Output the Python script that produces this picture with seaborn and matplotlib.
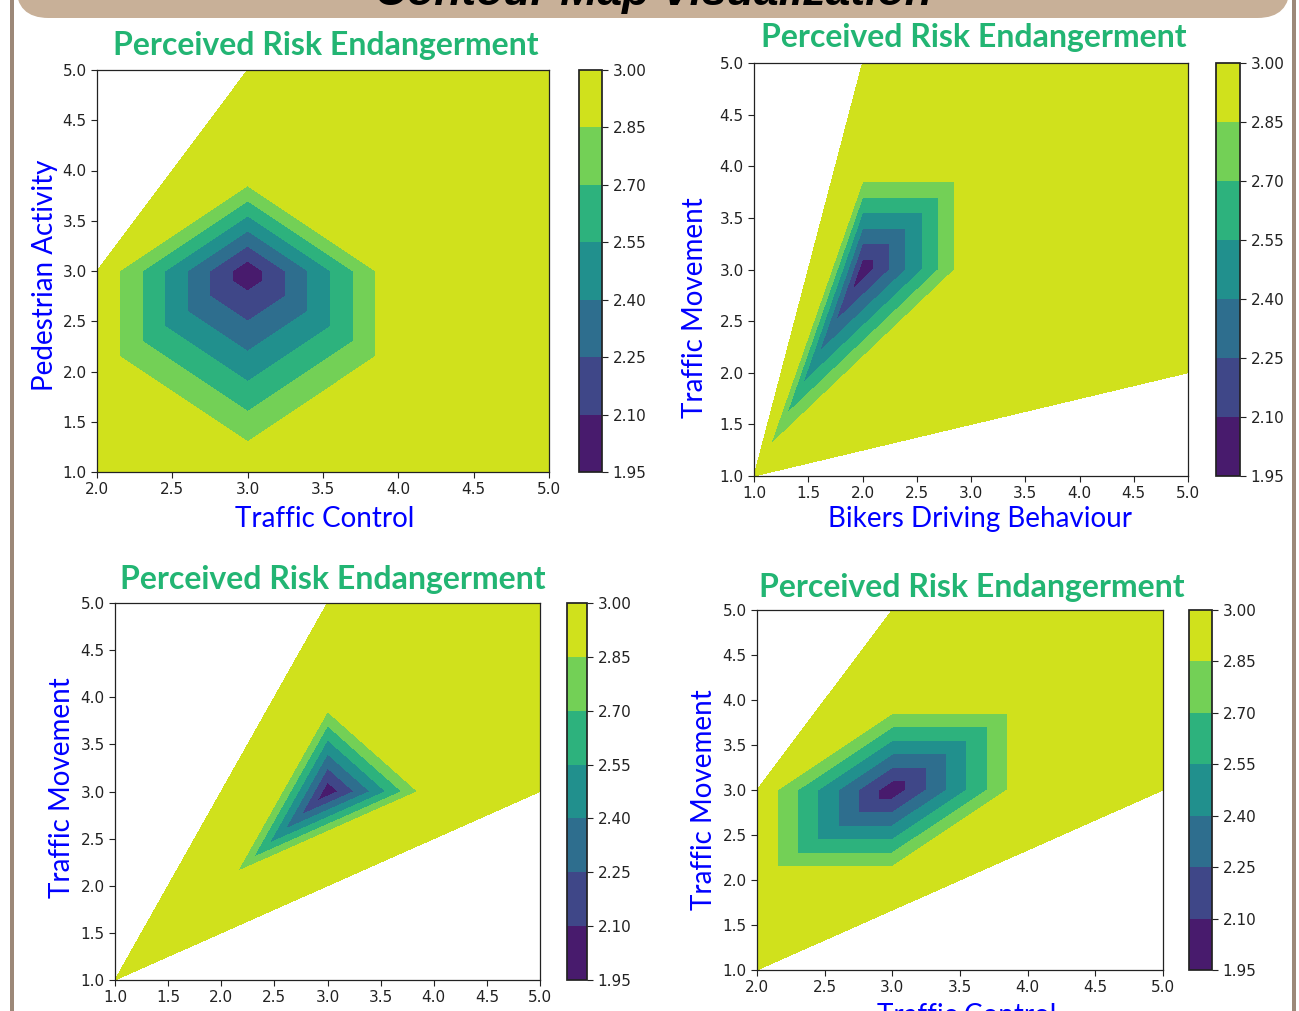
import numpy as np
import pandas as pd
import matplotlib
matplotlib.use("Agg")
import matplotlib.pyplot as plt
import matplotlib.tri as mtri
from matplotlib.patches import FancyBboxPatch, Rectangle
import seaborn as sns

# data: survey scores (1-5) and the perceived risk score at each point
tc_1 = [2, 5, 5, 3, 2, 3, 2, 3, 4, 4, 3]
pa_1 = [1, 1, 5, 5, 3, 3, 2, 4, 3, 2, 1]
risk_1 = [3.0, 3.0, 3.0, 3.0, 3.0, 2.0, 3.0, 3.0, 3.0, 3.0, 3.0]
tri_1 = [[5, 4, 7], [5, 7, 8], [5, 8, 9], [5, 9, 10], [5, 10, 6], [5, 6, 4],
         [4, 3, 7], [7, 3, 2], [7, 2, 8], [8, 2, 1], [8, 1, 9], [9, 1, 10], [10, 0, 6]]

bdb_2 = [1, 5, 5, 2, 2, 2, 3, 3]
tm_2 = [1, 2, 5, 5, 3, 4, 4, 3]
risk_2 = [3.0, 3.0, 3.0, 3.0, 2.0, 3.0, 3.0, 3.0]
tri_2 = [[4, 5, 6], [4, 6, 7], [4, 7, 0], [4, 0, 5],
         [0, 3, 5], [5, 3, 6], [6, 3, 2], [6, 2, 7], [7, 2, 1], [7, 1, 0]]

pa_3 = [1, 5, 5, 3, 3, 3, 4, 2]
tm_3 = [1, 3, 5, 5, 3, 4, 3, 2]
risk_3 = [3.0, 3.0, 3.0, 3.0, 2.0, 3.0, 3.0, 3.0]
tri_3 = None  # plain Delaunay works here

tc_4 = [2, 5, 5, 3, 2, 3, 3, 4, 4, 3, 2]
tm_4 = [1, 3, 5, 5, 3, 3, 4, 4, 3, 2, 2]
risk_4 = [3.0, 3.0, 3.0, 3.0, 3.0, 2.0, 3.0, 3.0, 3.0, 3.0, 3.0]
tri_4 = [[5, 4, 6], [5, 6, 7], [5, 7, 8], [5, 8, 9], [5, 9, 10], [5, 10, 4],
         [4, 3, 6], [6, 3, 7], [7, 3, 2], [7, 2, 1], [7, 1, 8], [8, 1, 9], [9, 1, 0], [9, 0, 10]]

levels = np.linspace(1.95, 3.0, 8)
ticks = [1.0, 1.5, 2.0, 2.5, 3.0, 3.5, 4.0, 4.5, 5.0]

# top level nudged so points sitting exactly at 3.0 get filled too
draw_levels = levels.copy()
draw_levels[-1] += 1e-6

sns.set_theme(style="ticks")
plt.rcParams['font.family'] = ['DejaVu Sans']

W, H = 1299, 1011
fig = plt.figure(figsize=(W / 100, H / 100), dpi=100)
fig.patch.set_facecolor("white")

def fx(px):
    return px / W

def fy(py):
    return 1 - py / H

# header banner and side borders
fig.patches.append(FancyBboxPatch((fx(16), fy(18)), fx(1274), 0.05,
                                  boxstyle="round,pad=0,rounding_size=0.025",
                                  transform=fig.transFigure, facecolor="#c8b098",
                                  edgecolor="none", mutation_aspect=W / H))
fig.patches.append(Rectangle((fx(10), 0), fx(4), 1, transform=fig.transFigure,
                             facecolor="#9c8878", edgecolor="none"))
fig.patches.append(Rectangle((fx(1292), 0), fx(4), 1, transform=fig.transFigure,
                             facecolor="#9c8878", edgecolor="none"))
fig.text(0.503, fy(5), "Contour Map Visualization", ha="center", va="baseline",
         fontsize=32, fontweight="bold", fontstyle="italic",
         family=["Liberation Sans", "DejaVu Sans"], color="black")

cmap = sns.color_palette("viridis", as_cmap=True)

panels = [
    dict(x=tc_1, y=pa_1, z=risk_1, t=tri_1, xlim=(2, 5), ax=(97, 70, 549, 472), cb=(579, 602),
         title=(326, 45), xl=("Traffic Control", 325, 519), yl=("Pedestrian Activity", 45, 275)),
    dict(x=bdb_2, y=tm_2, z=risk_2, t=tri_2, xlim=(1, 5), ax=(754, 63, 1188, 476), cb=(1216, 1240),
         title=(974, 38), xl=("Bikers Driving Behaviour", 980, 519), yl=("Traffic Movement", 695, 308)),
    dict(x=pa_3, y=tm_3, z=risk_3, t=tri_3, xlim=(1, 5), ax=(115, 603, 540, 980), cb=(567, 587),
         title=(333, 580), xl=("Pedestrian Activity", 330, 1025), yl=("Traffic Movement", 62, 788)),
    dict(x=tc_4, y=tm_4, z=risk_4, t=tri_4, xlim=(2, 5), ax=(757, 610, 1163, 970), cb=(1189, 1212),
         title=(972, 588), xl=("Traffic Control", 967, 1016), yl=("Traffic Movement", 704, 800)),
]

for p in panels:
    l, t, r, b = p["ax"]
    ax = fig.add_axes([fx(l), fy(b), fx(r - l), (b - t) / H])
    tri = mtri.Triangulation(p["x"], p["y"], p["t"])
    cs = ax.tricontourf(tri, p["z"], levels=draw_levels, cmap=cmap)
    ax.set_xlim(*p["xlim"])
    ax.set_ylim(1, 5)
    ax.set_xticks([v for v in ticks if p["xlim"][0] <= v <= p["xlim"][1]])
    ax.set_yticks(ticks)
    ax.tick_params(labelsize=11, colors="#222222", length=4, width=0.8)
    for s in ax.spines.values():
        s.set_color("#222222")
        s.set_linewidth(0.9)

    cax = fig.add_axes([fx(p["cb"][0]), fy(b), fx(p["cb"][1] - p["cb"][0]), (b - t) / H])
    cbar = fig.colorbar(cs, cax=cax)
    cbar.set_ticks(draw_levels)
    cbar.ax.set_yticklabels([f"{v:.2f}" for v in levels])
    cbar.ax.tick_params(labelsize=11, colors="#222222", length=4, width=0.8)
    cbar.outline.set_edgecolor("#222222")

    fig.text(fx(p["title"][0]), fy(p["title"][1]), "Perceived Risk Endangerment",
             ha="center", va="center", fontsize=23, fontweight="bold",
             family=["Lato", "DejaVu Sans"], color="#22b573")
    ax.set_xlabel(p["xl"][0], fontsize=20, color="#0000ff", family=["Lato", "DejaVu Sans"])
    ax.xaxis.set_label_coords(fx(p["xl"][1]), fy(p["xl"][2]), transform=fig.transFigure)
    ax.xaxis.label.set_va("center")
    ax.set_ylabel(p["yl"][0], fontsize=20, color="#0000ff", family=["Lato", "DejaVu Sans"])
    ax.yaxis.set_label_coords(fx(p["yl"][1]), fy(p["yl"][2]), transform=fig.transFigure)
    ax.yaxis.label.set_va("center")

fig.savefig("out.png", dpi=100)
